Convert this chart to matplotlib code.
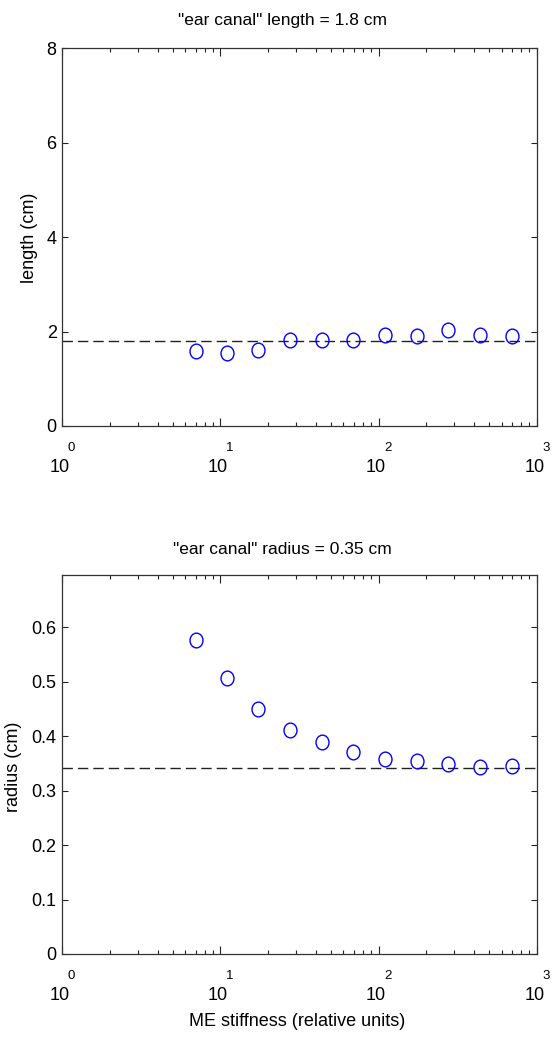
import numpy as np
import matplotlib
matplotlib.use("Agg")
import matplotlib.pyplot as plt
from matplotlib.path import Path
from matplotlib.transforms import Affine2D
from matplotlib.ticker import LogLocator, NullFormatter, FixedLocator

plt.rcParams['font.family'] = ['Liberation Sans', 'DejaVu Sans']

# ME stiffness values (relative units)
stiffness = [7.0, 11.0, 17.4, 27.6, 43.8, 69.4, 110, 174, 276, 437, 693]

# fitted ear canal length and radius for each stiffness
length_cm = [1.59, 1.55, 1.61, 1.82, 1.82, 1.82, 1.93, 1.91, 2.03, 1.93, 1.91]
radius_cm = [0.576, 0.506, 0.450, 0.412, 0.389, 0.371, 0.359, 0.354, 0.349, 0.344, 0.346]

length_ref = 1.8
radius_ref = 0.342

length_ticks = [0, 2, 4, 6, 8]
length_ticklabels = ['0', '2', '4', '6', '8']
radius_ticks = [0, 0.1, 0.2, 0.3, 0.4, 0.5, 0.6]
radius_ticklabels = ['0', '0.1', '0.2', '0.3', '0.4', '0.5', '0.6']
decades = [1, 10, 100, 1000]
exponents = ['0', '1', '2', '3']

W, H = 552, 1042
FS = 13
fig = plt.figure(figsize=(W / 100, H / 100), dpi=100)

# slightly tall open circle, like the original marker
circle = Path.unit_circle().transformed(Affine2D().scale(0.88, 1.0))


def make_axes(top_px, bottom_px):
    left_px, right_px = 62.3, 536.7
    return fig.add_axes([left_px / W, 1 - bottom_px / H,
                         (right_px - left_px) / W, (bottom_px - top_px) / H])


def style_axes(ax, yticks, yticklabels, ylim):
    ax.set_xscale('log')
    ax.set_xlim(1, 1000)
    ax.set_ylim(*ylim)
    ax.xaxis.set_major_locator(FixedLocator(decades))
    ax.xaxis.set_minor_locator(LogLocator(base=10, subs=np.arange(2, 10)))
    ax.xaxis.set_major_formatter(NullFormatter())
    ax.xaxis.set_minor_formatter(NullFormatter())
    ax.set_yticks(yticks)
    ax.set_yticklabels(yticklabels)
    ax.tick_params(axis='both', which='both', direction='in',
                   top=True, right=True, width=0.8, color='#222222')
    ax.tick_params(axis='x', which='major', length=6)
    ax.tick_params(axis='x', which='minor', length=3)
    ax.tick_params(axis='y', which='major', length=4.3, labelsize=FS, pad=4)
    for s in ax.spines.values():
        s.set_linewidth(0.9)
        s.set_color('#333333')

    # MATLAB-style 10^n tick labels: exponent above and right of the "10"
    for d, e in zip(decades, exponents):
        ax.annotate('10', xy=(d, 0), xycoords=('data', 'axes fraction'),
                    xytext=(-2.5, -41), textcoords='offset pixels',
                    ha='center', va='center', fontsize=FS)
        ax.annotate(e, xy=(d, 0), xycoords=('data', 'axes fraction'),
                    xytext=(9, -22), textcoords='offset pixels',
                    ha='center', va='center', fontsize=9.5)


def draw(ax, values, ref):
    ax.axhline(ref, color='#222222', lw=1.0, dashes=[7.5, 3.6])
    ax.plot(stiffness, values, linestyle='none', marker=circle,
            markersize=10.6, markerfacecolor='none', markeredgecolor='#0000ff',
            markeredgewidth=1.0)


# --- length ---
ax1 = make_axes(48.3, 426)
draw(ax1, length_cm, length_ref)
style_axes(ax1, length_ticks, length_ticklabels, (0, 8))
fig.text(282 / W, 1 - 20 / H, '"ear canal" length = 1.8 cm',
         ha='center', va='center', fontsize=12.5)
fig.text(30 / W, 1 - 238 / H, 'length (cm)', rotation=90,
         ha='center', va='center', fontsize=FS)

# --- radius ---
ax2 = make_axes(575, 954)
draw(ax2, radius_cm, radius_ref)
style_axes(ax2, radius_ticks, radius_ticklabels, (0, 0.696))
fig.text(282 / W, 1 - 549 / H, '"ear canal" radius = 0.35 cm',
         ha='center', va='center', fontsize=12.5)
fig.text(14 / W, 1 - 767 / H, 'radius (cm)', rotation=90,
         ha='center', va='center', fontsize=FS)
fig.text(297 / W, 1 - 1022 / H, 'ME stiffness (relative units)',
         ha='center', va='center', fontsize=FS)

fig.savefig('out.png', dpi=100)
